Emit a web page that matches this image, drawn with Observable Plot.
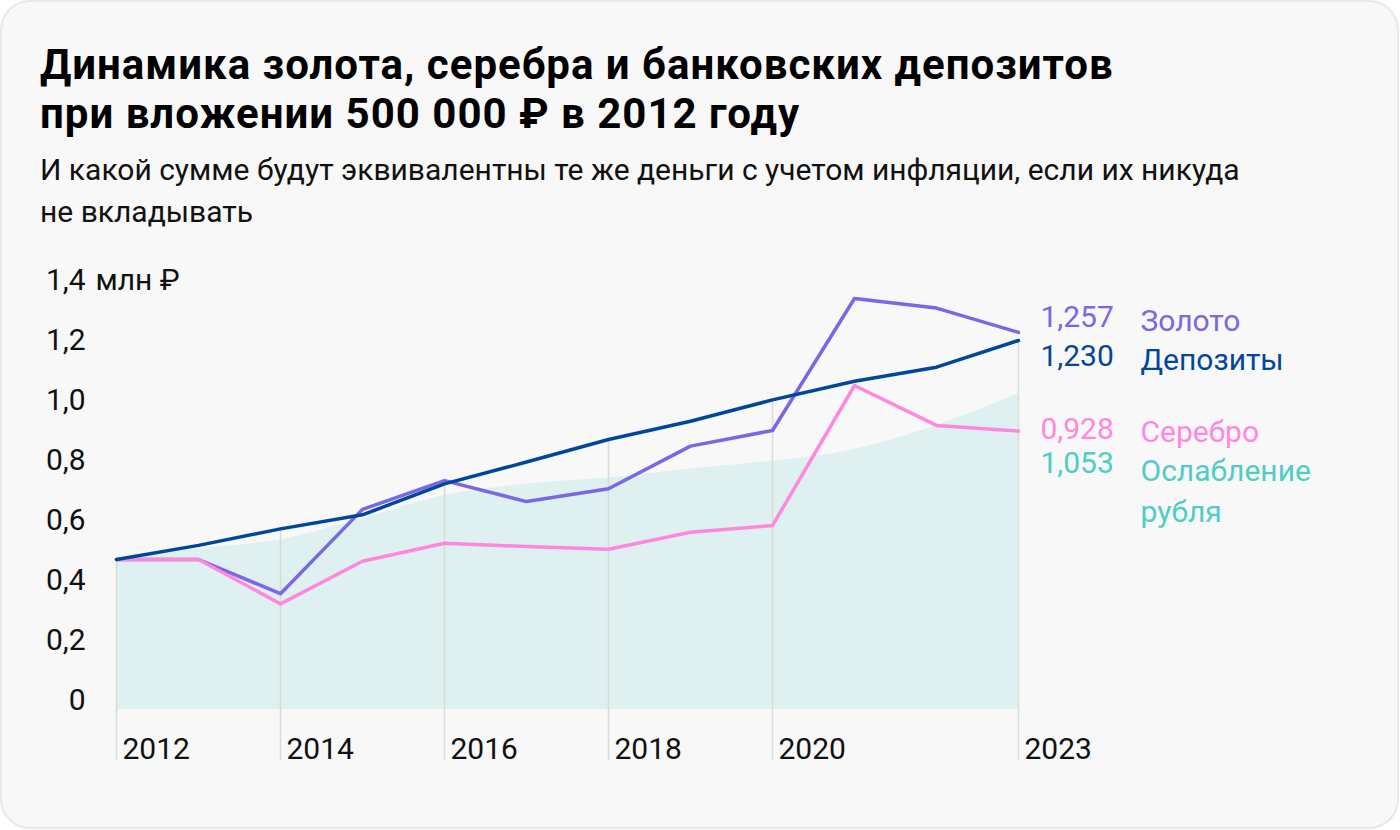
<!DOCTYPE html>
<html>
<head>
<meta charset="utf-8">
<script src="https://cdn.jsdelivr.net/npm/d3@7"></script>
<script src="https://cdn.jsdelivr.net/npm/@observablehq/plot@0.6"></script>
<style>
  html, body { margin: 0; padding: 0; background: #ffffff; }
  #wrap { position: relative; width: 1400px; height: 830px; overflow: hidden; font-family: Roboto, "Noto Sans", sans-serif; }
  #card { position: absolute; left: 0; top: 0; width: 1399px; height: 829px; box-sizing: border-box;
          border: 2px solid #e8e8e8; border-radius: 30px; background: #f8f8f8; }
  #title { position: absolute; left: 40px; top: 0; font-size: 42px; letter-spacing: 1px; font-weight: 700; color: #000; margin: 0; }
  #title div { position: absolute; left: 0; white-space: nowrap; line-height: 49px; }
  #subtitle { position: absolute; left: 40px; top: 149px; font-size: 30px; line-height: 42px; font-weight: 400; color: #111; margin: 0; white-space: nowrap; }
  #chart { position: absolute; left: 0; top: 0; }
</style>
</head>
<body>
<div id="wrap">
  <div id="card"></div>
  <div id="chart"></div>
  <h1 id="title"><div style="top:40px">Динамика золота, серебра и банковских депозитов</div><div style="top:89px">при вложении 500 000 ₽ в 2012 году</div></h1>
  <p id="subtitle">И какой сумме будут эквивалентны те же деньги с учетом инфляции, если их никуда<br>не вкладывать</p>
</div>
<script>
// ---- Data (млн ₽) ----
const years    = [2012, 2013, 2014, 2015, 2016, 2017, 2018, 2019, 2020, 2021, 2022, 2023];
const gold     = [0.500, 0.500, 0.386, 0.667, 0.763, 0.693, 0.736, 0.878, 0.930, 1.370, 1.338, 1.257];
const deposits = [0.500, 0.547, 0.602, 0.649, 0.752, 0.825, 0.900, 0.961, 1.032, 1.094, 1.141, 1.230];
const silver   = [0.500, 0.500, 0.352, 0.494, 0.554, 0.543, 0.534, 0.591, 0.613, 1.080, 0.947, 0.928];
const ruble    = [0.500, 0.535, 0.566, 0.636, 0.713, 0.752, 0.772, 0.802, 0.828, 0.867, 0.947, 1.053];

const xTicks = [2012, 2014, 2016, 2018, 2020, 2023];
const yTicks = [0, 0.2, 0.4, 0.6, 0.8, 1.0, 1.2, 1.4];
const yUnit = "млн ₽";

const seriesNames  = ["Золото", "Депозиты", "Серебро", "Ослабление\nрубля"];
const seriesEnd    = ["1,257", "1,230", "0,928", "1,053"];

const table = years.map((year, i) => ({year, gold: gold[i], deposits: deposits[i], silver: silver[i], ruble: ruble[i]}));

const C = {gold: "#7a67e4", deposits: "#00479b", silver: "#ff88de", ruble: "#4fcdc4", area: "#dff0f0", grid: "#d6dbdb"};
const last = table[table.length - 1];
const FS = 30;

function endLabel(key, idx, color, dy, lineAnchor = "middle") {
  const d = [{year: last.year, v: last[key], val: seriesEnd[idx], name: seriesNames[idx]}];
  return [
    Plot.text(d, {x: "year", y: "v", text: "val", fill: color, textAnchor: "start", lineAnchor, dx: 22, dy, fontSize: FS}),
    Plot.text(d, {x: "year", y: "v", text: "name", fill: color, textAnchor: "start", lineAnchor, dx: 122, dy, fontSize: FS, lineHeight: 1.37})
  ];
}

const plot = Plot.plot({
  width: 1400,
  height: 830,
  marginLeft: 116,
  marginRight: 382,
  marginTop: 289,
  marginBottom: 121,
  x: {domain: [2012, 2023], label: null},
  y: {domain: [0, 1.4], label: null},
  style: {background: "transparent", fontFamily: "Roboto, 'Noto Sans', sans-serif", overflow: "visible"},
  marks: [
    Plot.areaY(table, {x: "year", y: "ruble", fill: C.area, curve: "monotone-x"}),
    Plot.ruleX(table.filter(d => xTicks.includes(d.year)), {x: "year", y1: "deposits", y2: -0.17, stroke: C.grid, strokeWidth: 1.5}),
    Plot.axisY({ticks: yTicks, tickSize: 0, tickPadding: 31, fontSize: FS, dy: -9, fill: "#111", label: null,
                tickFormat: d => d === 0 ? "0" : d.toFixed(1).replace(".", ",")}),
    Plot.text([yUnit], {x: () => 2012, y: () => 1.4, text: d => d, textAnchor: "start", dx: -21, dy: -9, fontSize: FS, fill: "#111"}),
    Plot.axisX({ticks: xTicks, tickSize: 0, tickPadding: 28, textAnchor: "start", dx: 6, fontSize: FS, fill: "#111", label: null,
                tickFormat: d => String(d)}),
    Plot.lineY(table, {x: "year", y: "gold", stroke: C.gold, strokeWidth: 3.5}),
    Plot.lineY(table, {x: "year", y: "silver", stroke: C.silver, strokeWidth: 3.5}),
    Plot.lineY(table, {x: "year", y: "deposits", stroke: C.deposits, strokeWidth: 3.5}),
    ...endLabel("gold", 0, C.gold, -15),
    ...endLabel("deposits", 1, C.deposits, 16),
    ...endLabel("silver", 2, C.silver, -2),
    ...endLabel("ruble", 3, C.ruble, 58, "top")
  ]
});
document.getElementById("chart").appendChild(plot);
</script>
</body>
</html>
